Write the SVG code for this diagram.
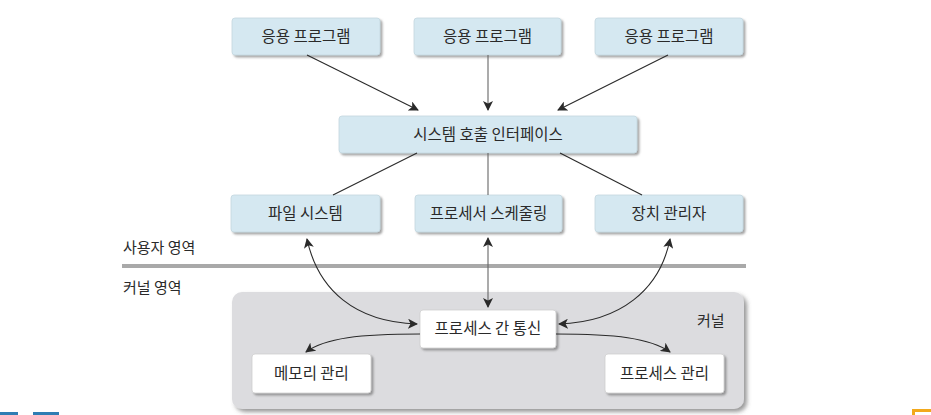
<svg xmlns="http://www.w3.org/2000/svg" width="931" height="415" viewBox="0 0 931 415">
<defs>
<style>
.box{fill:#d5e8f1;stroke:#c4d7e0;stroke-width:0.8;filter:url(#sh)}
.wbox{fill:#ffffff;stroke:#cfcfcf;stroke-width:0.8;filter:url(#sh)}
.t{font-family:"Noto Sans CJK KR","Noto Sans",sans-serif;font-size:15.5px;fill:#2a2a2a;text-anchor:middle}
.lbl{font-family:"Noto Sans CJK KR","Noto Sans",sans-serif;font-size:15px;fill:#2a2a2a}
.c{fill:none;stroke:#2a2a2a;stroke-width:1.1}
.g{fill:none;stroke:#666;stroke-width:1.1}
</style>
<filter id="sh" x="-10%" y="-20%" width="125%" height="150%">
<feDropShadow dx="2" dy="2" stdDeviation="1.3" flood-color="#555" flood-opacity="0.55"/>
</filter>
<filter id="sh2" x="-5%" y="-5%" width="112%" height="115%">
<feDropShadow dx="3" dy="3" stdDeviation="2" flood-color="#555" flood-opacity="0.6"/>
</filter>
<marker id="ah" viewBox="0 0 10 10" refX="9" refY="5" markerWidth="10" markerHeight="10" markerUnits="userSpaceOnUse" orient="auto-start-reverse">
<path d="M0,0 L10,5 L0,10 L2.5,5 Z" fill="#2a2a2a"/>
</marker>
</defs>
<rect width="931" height="415" fill="#ffffff"/>

<g id="kernel">
<rect x="232" y="292" width="512" height="117" rx="10" fill="#dcdcdf" filter="url(#sh2)"/>
<text class="lbl" x="697" y="326">커널</text>
</g>

<g id="labels">
<text class="lbl" x="123" y="253">사용자 영역</text>
<rect x="122" y="264" width="624" height="4" fill="#a9a9a9"/>
<text class="lbl" x="123" y="293">커널 영역</text>
</g>

<g id="app1"><rect class="box" x="232" y="18" width="148" height="37" rx="3"/><text class="t" x="306" y="42">응용 프로그램</text></g>
<g id="app2"><rect class="box" x="414" y="18" width="147" height="37" rx="3"/><text class="t" x="487.5" y="42">응용 프로그램</text></g>
<g id="app3"><rect class="box" x="595" y="18" width="148" height="37" rx="3"/><text class="t" x="669" y="42">응용 프로그램</text></g>
<g id="syscall"><rect class="box" x="339" y="116" width="298" height="37" rx="3"/><text class="t" x="488" y="140">시스템 호출 인터페이스</text></g>
<g id="fs"><rect class="box" x="231" y="195" width="149" height="37" rx="3"/><text class="t" x="305.5" y="219">파일 시스템</text></g>
<g id="sched"><rect class="box" x="415" y="195" width="147" height="37" rx="3"/><text class="t" x="488.5" y="219">프로세서 스케줄링</text></g>
<g id="dev"><rect class="box" x="595" y="195" width="148" height="37" rx="3"/><text class="t" x="669" y="219">장치 관리자</text></g>
<g id="ipc"><rect class="wbox" x="420" y="310" width="136" height="38" rx="3"/><text class="t" x="488" y="334">프로세스 간 통신</text></g>
<g id="mem"><rect class="wbox" x="252" y="354" width="119" height="39" rx="3"/><text class="t" x="311.5" y="379">메모리 관리</text></g>
<g id="proc"><rect class="wbox" x="605" y="354" width="119" height="39" rx="3"/><text class="t" x="664.5" y="379">프로세스 관리</text></g>

<g id="connectors">
<line class="c" x1="307" y1="55" x2="418" y2="110" marker-end="url(#ah)"/>
<line class="g" x1="488" y1="55" x2="488" y2="110" marker-end="url(#ah)"/>
<line class="c" x1="668" y1="55" x2="558" y2="110" marker-end="url(#ah)"/>
<line class="c" x1="417" y1="153" x2="333" y2="195"/>
<line class="g" x1="488" y1="153" x2="488" y2="195"/>
<line class="c" x1="560" y1="153" x2="642" y2="195"/>
<line class="g" x1="488" y1="238" x2="488" y2="307" marker-start="url(#ah)" marker-end="url(#ah)"/>
<path class="c" d="M307,239 C318,290 355,322 417,324" marker-start="url(#ah)" marker-end="url(#ah)"/>
<path class="c" d="M670,239 C660,290 620,322 559,324" marker-start="url(#ah)" marker-end="url(#ah)"/>
<path class="c" d="M420,334 C360,334 325,338 306,352" marker-end="url(#ah)"/>
<path class="c" d="M556,334 C615,334 650,338 670,352" marker-end="url(#ah)"/>
</g>

<g id="edges">
<rect x="0" y="412" width="18" height="3" fill="#2f7db3"/>
<rect x="33" y="412" width="26" height="3" fill="#2f7db3"/>
<path d="M913.5,415 V410.5 H931" fill="none" stroke="#f2a91c" stroke-width="3"/>
</g>
</svg>
